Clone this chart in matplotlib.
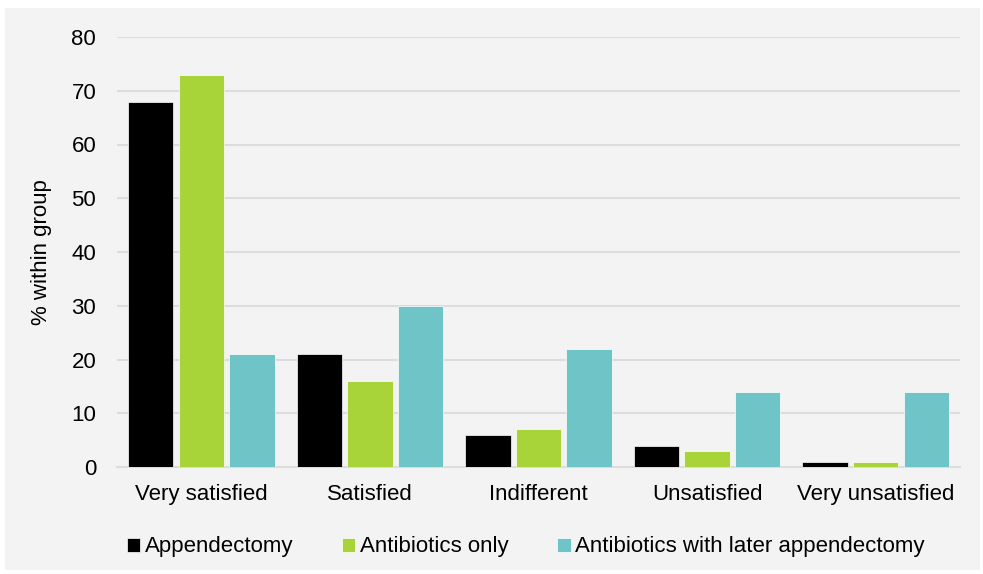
import numpy as np
import matplotlib.pyplot as plt
from matplotlib.patches import Rectangle

categories = ["Very satisfied", "Satisfied", "Indifferent", "Unsatisfied", "Very unsatisfied"]
appendectomy = [68, 21, 6, 4, 1]
antibiotics_only = [73, 16, 7, 3, 1]
antibiotics_later = [21, 30, 22, 14, 14]
series_names = ["Appendectomy", "Antibiotics only", "Antibiotics with later appendectomy"]
colors = ["#000000", "#a8d43a", "#6fc4c8"]

plt.rcParams['font.family'] = ['Liberation Sans', 'DejaVu Sans']

fig = plt.figure(figsize=(9.83, 5.74), dpi=100)
fig.patch.set_facecolor("white")
# light grey panel behind the chart
fig.patches.append(Rectangle((5 / 983, 4 / 574), 975 / 983, 562 / 574, transform=fig.transFigure,
                             facecolor="#f3f3f3", edgecolor="none", zorder=-10))

ax = fig.add_axes([117 / 983, 1 - 467 / 574, 843 / 983, 430 / 574])
ax.set_facecolor("none")

x = np.arange(len(categories))
width = 0.27
for i, (vals, name) in enumerate(zip([appendectomy, antibiotics_only, antibiotics_later], series_names)):
    ax.bar(x + (i - 1) * 0.30, vals, width, color=colors[i], label=name, zorder=3,
           edgecolor="white", linewidth=0.5)

ax.set_xlim(-0.5, len(categories) - 0.5)
ax.set_ylim(0, 80)
ax.set_yticks(range(0, 81, 10))
ax.set_xticks(x)
ax.set_xticklabels(categories)
ax.yaxis.grid(True, color="#dcdcdc", linewidth=1.5, zorder=0)
for s in ["top", "right", "left"]:
    ax.spines[s].set_visible(False)
ax.spines["bottom"].set_color("#dcdcdc")
ax.spines["bottom"].set_linewidth(1.5)
ax.tick_params(axis="both", length=0, labelsize=16, colors="#000000")
ax.tick_params(axis="x", pad=12)
ax.tick_params(axis="y", pad=15)
ax.set_ylabel("% within group", fontsize=16, labelpad=14)

ax.legend(loc="upper center", bbox_to_anchor=(0.485, -0.115), ncol=3, frameon=False,
          handlelength=0.6, handleheight=0.6, handletextpad=0.2, columnspacing=2.2,
          prop={'size': 16})

fig.savefig("out.png", dpi=100, facecolor=fig.get_facecolor())
